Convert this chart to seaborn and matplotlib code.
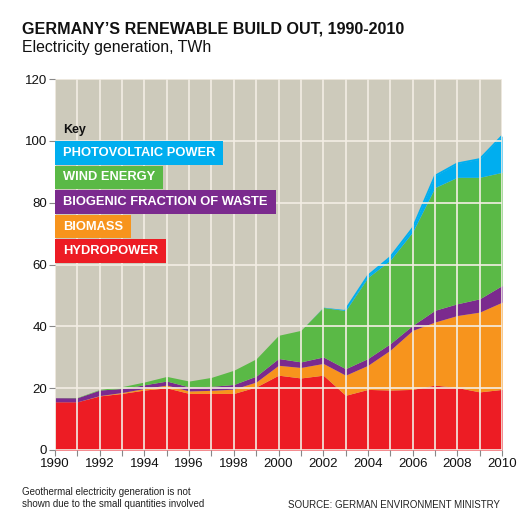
import matplotlib
matplotlib.use("Agg")
import matplotlib.pyplot as plt
import seaborn as sns
import pandas as pd
from matplotlib.patches import Rectangle
from matplotlib.ticker import MultipleLocator

years = list(range(1990, 2011))
hydro = [15.6, 15.6, 17.5, 18.3, 19.4, 20.1, 18.3, 18.3, 18.3, 20.4, 24.2,
         23.3, 24.2, 17.7, 19.6, 19.4, 19.6, 21.0, 20.2, 18.8, 19.6]
biomass = [0.0, 0.0, 0.1, 0.3, 0.5, 0.9, 0.8, 1.0, 1.4, 1.6, 3.2,
           3.4, 3.8, 6.5, 7.8, 12.9, 19.1, 20.4, 23.3, 25.8, 28.2]
waste = [1.3, 1.3, 1.8, 1.3, 1.2, 1.3, 1.3, 1.3, 1.5, 1.9, 2.2,
         1.8, 2.1, 2.1, 2.2, 2.1, 1.6, 3.8, 3.8, 4.3, 5.4]
wind = [0.0, 0.1, 0.2, 0.6, 0.9, 1.5, 1.9, 2.9, 4.6, 5.6, 7.5,
        10.2, 16.0, 18.8, 26.2, 27.0, 30.2, 39.7, 40.9, 39.3, 36.6]
solar = [0.0, 0.0, 0.0, 0.0, 0.0, 0.0, 0.0, 0.0, 0.0, 0.0, 0.0,
         0.0, 0.1, 0.3, 0.6, 1.0, 1.3, 3.8, 4.5, 5.9, 11.8]

key_labels = ["PHOTOVOLTAIC POWER", "WIND ENERGY", "BIOGENIC FRACTION OF WASTE",
              "BIOMASS", "HYDROPOWER"]
colors = {"HYDROPOWER": "#ed1c24", "BIOMASS": "#f7941d",
          "BIOGENIC FRACTION OF WASTE": "#7b2a8e", "WIND ENERGY": "#5ab946",
          "PHOTOVOLTAIC POWER": "#00aeef"}

df = pd.DataFrame({"year": years, "HYDROPOWER": hydro, "BIOMASS": biomass,
                   "BIOGENIC FRACTION OF WASTE": waste, "WIND ENERGY": wind,
                   "PHOTOVOLTAIC POWER": solar})
df["total"] = df[key_labels].sum(axis=1)

sns.set_theme(style="white")
plt.rcParams["font.family"] = ["Liberation Sans", "DejaVu Sans"]

W = 530
fig = plt.figure(figsize=(5.3, 5.3), dpi=100)
ax = fig.add_axes([55 / W, 1 - 450 / W, 447 / W, 371 / W])
ax.set_facecolor("#cdcabb")

order = key_labels[::-1]
ax.stackplot(df["year"], *[df[c] for c in order],
             colors=[colors[c] for c in order], linewidth=0)
# thin photovoltaic edge, visible while the PV layer is still tiny
sns.lineplot(data=df[df["year"] >= 2003], x="year", y="total", ax=ax,
             color=colors["PHOTOVOLTAIC POWER"], linewidth=1.3)

ax.set_xlim(1990, 2010)
ax.set_ylim(0, 120)
ax.xaxis.set_major_locator(MultipleLocator(2))
ax.xaxis.set_minor_locator(MultipleLocator(1))
ax.yaxis.set_major_locator(MultipleLocator(20))
ax.set_axisbelow(False)
ax.grid(True, which="both", axis="x", color="#f3eee4", linewidth=1.2)
ax.grid(True, which="major", axis="y", color="#f3eee4", linewidth=1.2)
for s in ax.spines.values():
    s.set_visible(False)
ax.tick_params(axis="both", which="both", length=4, width=0.8, color="#888888",
               labelsize=9.5, pad=1.5, bottom=True, left=True, labelcolor="#111111")
ax.set_xlabel("")
ax.set_ylabel("")

fig.text(22 / W, 1 - 28.5 / W, "GERMANY\u2019S RENEWABLE BUILD OUT, 1990-2010",
         fontsize=11.6, fontweight="bold", va="center", ha="left", color="#111111")
fig.text(22 / W, 1 - 47.5 / W, "Electricity generation, TWh",
         fontsize=11.4, va="center", ha="left", color="#111111")

fig.text(63 / W, 1 - 129.5 / W, "Key", fontsize=9, fontweight="bold",
         va="center", ha="left", color="#111111")

fig.canvas.draw()
renderer = fig.canvas.get_renderer()
for i, lab in enumerate(key_labels):
    yc = 153 + 24.5 * i
    t = fig.text(63 / W, 1 - yc / W, lab, fontsize=9.3, fontweight="bold",
                 color="white", va="center", ha="left", zorder=5)
    bb = t.get_window_extent(renderer)
    x1 = bb.x1 + 8
    fig.patches.append(Rectangle((55 / W, 1 - (yc + 11.8) / W), (x1 - 55) / W,
                                 23.6 / W, transform=fig.transFigure,
                                 facecolor=colors[lab], edgecolor="none", zorder=4))

fig.text(22 / W, 1 - 498 / W,
         "Geothermal electricity generation is not\nshown due to the small quantities involved",
         fontsize=7, va="center", ha="left", color="#222222", linespacing=1.2)
fig.text(500 / W, 1 - 504.5 / W, "SOURCE: GERMAN ENVIRONMENT MINISTRY",
         fontsize=7, va="center", ha="right", color="#222222")

fig.savefig("out.png", dpi=100, facecolor="white")
